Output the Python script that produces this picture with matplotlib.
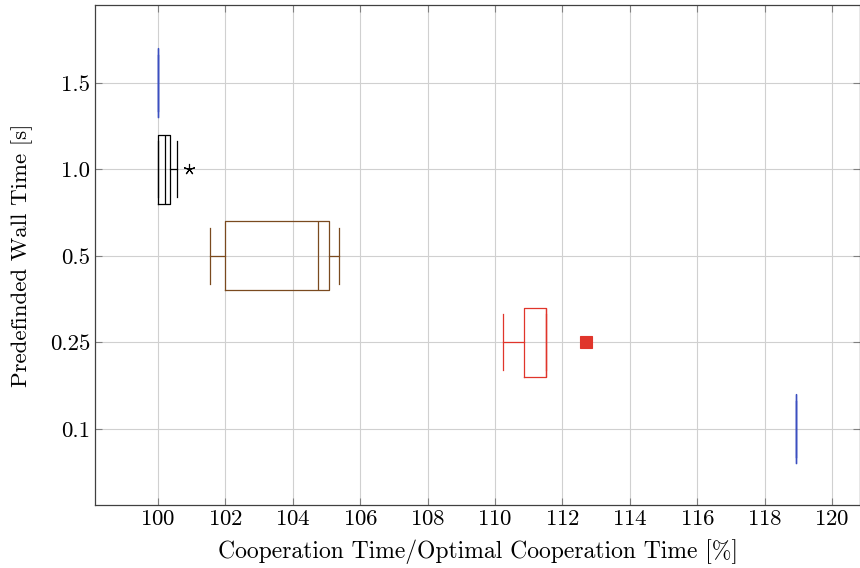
import matplotlib
matplotlib.use("Agg")
import matplotlib.pyplot as plt

plt.rcParams["font.family"] = ["cmr10", "DejaVu Serif"]
plt.rcParams["mathtext.fontset"] = "cm"
plt.rcParams["axes.formatter.use_mathtext"] = True

# wall time categories (bottom to top)
labels = ["0.1", "0.25", "0.5", "1.0", "1.5"]
positions = [1, 2, 3, 4, 5]

# box plot statistics
whislo = [118.93, 110.24, 101.54, 100.0, 100.0]
q1 = [118.93, 110.86, 102.0, 100.0, 100.0]
med = [118.93, 111.5, 104.75, 100.21, 100.0]
q3 = [118.93, 111.5, 105.07, 100.35, 100.0]
whishi = [118.93, 111.5, 105.37, 100.56, 100.0]
fliers = [[], [112.71], [], [100.92], []]

colors = ["#3b4fc0", "#e0352b", "#7a4a1f", "#000000", "#3b4fc0"]
flier_markers = ["o", "s", "o", (5, 2, 0), "o"]
flier_sizes = [6, 8, 6, 8, 6]

fig = plt.figure(figsize=(8.6, 5.68), dpi=100)
ax = fig.add_axes([0.1105, 0.1109, 0.8895, 0.8803])

for i in range(len(labels)):
    stats = [{
        "whislo": whislo[i], "q1": q1[i], "med": med[i], "q3": q3[i],
        "whishi": whishi[i], "fliers": fliers[i],
    }]
    c = colors[i]
    ax.bxp(stats, positions=[positions[i]], vert=False, widths=0.8,
           capwidths=0.65, manage_ticks=False,
           boxprops=dict(color=c, linewidth=0.9),
           medianprops=dict(color=c, linewidth=0.9),
           whiskerprops=dict(color=c, linewidth=0.9),
           capprops=dict(color=c, linewidth=0.9),
           flierprops=dict(marker=flier_markers[i], markerfacecolor=c,
                           markeredgecolor=c, markersize=flier_sizes[i],
                           markeredgewidth=0.8, linestyle="none"))

ax.set_xlim(98.13, 120.83)
ax.set_ylim(0.12, 5.9)
ax.set_xticks(range(100, 121, 2))
ax.set_yticks(positions)
ax.set_yticklabels(labels)
ax.grid(True, color="#d0d0d0", linewidth=0.8)
ax.set_axisbelow(True)
ax.tick_params(direction="in", top=True, right=True, color="#808080",
               length=5, labelsize=16.5)
for s in ax.spines.values():
    s.set_color("#404040")
    s.set_linewidth(0.9)

ax.set_xlabel("Cooperation Time/Optimal Cooperation Time [%]", fontsize=17,
              labelpad=7)
ax.set_ylabel("Predefinded Wall Time [s]", fontsize=16.5, labelpad=12)

fig.savefig("out.png", dpi=100)
